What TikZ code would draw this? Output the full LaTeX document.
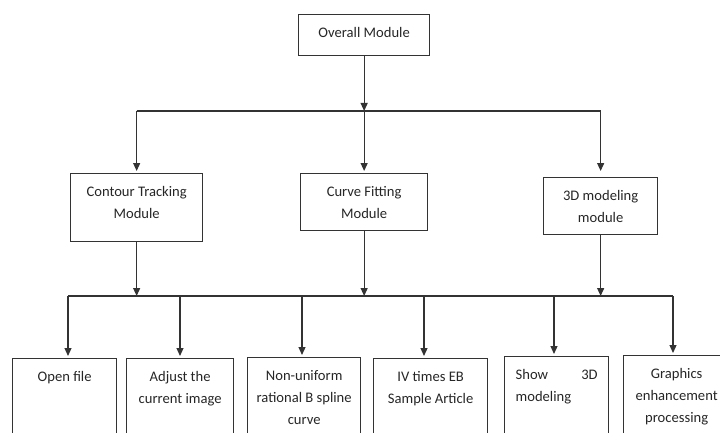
\documentclass[tikz,border=0pt]{standalone}
\usepackage{fontspec}
\setmainfont{Carlito}
\usetikzlibrary{arrows.meta}
% text hanging from the top of a box
\newcommand{\modtext}[3]{\parbox[c][#2][t]{#1}{\centering\vspace*{12pt}\rule{0pt}{11pt}#3}}

\begin{document}
\begin{tikzpicture}[x=1pt,y=-1pt,
  modbox/.style={draw=black!80,line width=1.3pt,inner sep=0pt,anchor=north west,text=black!85,font=\fontsize{14.6}{22}\selectfont},
  wire/.style={draw=black!80,line width=1.2pt},
  arr/.style={wire,-{Triangle[width=7pt,length=8pt]}}]
\useasboundingbox (0,0) rectangle (720,433);
\clip (0,0) rectangle (720,433);

\node[modbox] (om) at (298,14) {\modtext{131pt}{41pt}{Overall Module}};

\node[modbox] (ct) at (70,173) {\modtext{132pt}{68pt}{Contour Tracking\\Module}};
\node[modbox] (cf) at (300,173) {\modtext{127pt}{57pt}{Curve Fitting\\Module}};
\node[modbox] (md) at (543,177) {\modtext{114pt}{57pt}{3D modeling\\module}};

\node[modbox] (of) at (12,358) {\modtext{104pt}{90pt}{Open file}};
\node[modbox] (ad) at (126,358) {\modtext{107pt}{90pt}{Adjust the\\current image}};
\node[modbox] (nu) at (247,357) {\modtext{113pt}{90pt}{Non-uniform\\rational B spline\\curve}};
\node[modbox] (iv) at (373,358) {\modtext{114pt}{90pt}{IV times EB\\Sample Article}};
\node[modbox] (sh) at (504,356) {\modtext{104pt}{90pt}{\makebox[82pt]{Show\hfill 3D}\\\makebox[82pt][l]{modeling}}};
\node[modbox] (ge) at (623,355) {\modtext{106pt}{90pt}{Graphics\\enhancement\\processing}};

% first level
\coordinate (tl) at (ct.north |- 0,111);
\coordinate (tr) at (md.north |- 0,111);
\draw[arr] (om.south) -- (om.south |- tl);
\draw[wire] (tl) -- (tr);
\draw[arr,shorten >=2pt] (tl) -- (ct.north);
\draw[arr,shorten >=2pt] (om.south |- tl) -- (cf.north);
\draw[arr,shorten >=6pt] (tr) -- (md.north);

% second level
\coordinate (bl) at (68,296);
\coordinate (br) at (673,296);
\draw[wire] (bl) -- (br);
\draw[arr] (ct.south) -- (ct.south |- bl);
\draw[arr] (cf.south) -- (cf.south |- bl);
\draw[arr] (md.south) -- (md.south |- bl);
\foreach \x/\n in {68/of,180/ad,302/nu,424/iv,554/sh,673/ge}{
  \coordinate (b\n) at (\x,296);
  \draw[arr,shorten >=2pt] (b\n) -- (b\n |- \n.north);
}

\end{tikzpicture}
\end{document}
